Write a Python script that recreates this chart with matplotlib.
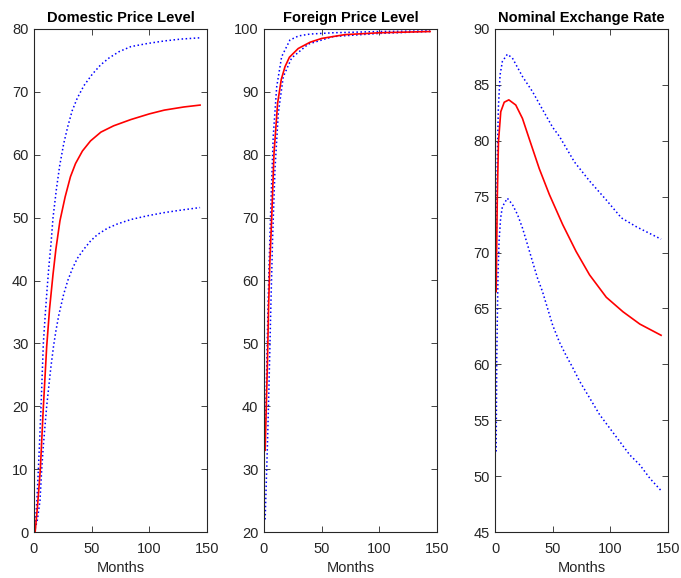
import matplotlib
matplotlib.use("Agg")
import matplotlib.pyplot as plt

plt.rcParams['font.family'] = ['Liberation Sans', 'DejaVu Sans']

# ---------------- Data ----------------
titles = ["Domestic Price Level", "Foreign Price Level", "Nominal Exchange Rate"]
xlabel = "Months"

# Domestic price level
dom_mid_m = [1, 3, 5.5, 8, 11, 13.5, 16.5, 19, 22.5, 27, 31.6, 36, 42, 49, 58, 69, 84, 100, 113, 130, 144]
dom_mid_v = [0, 4, 10, 19.5, 29.5, 35.5, 41, 45, 49.5, 53.3, 56.5, 58.6, 60.6, 62.2, 63.6, 64.6, 65.6, 66.5, 67.1, 67.6, 67.9]
dom_up_m = [1, 2.5, 3.8, 5, 6.1, 7.1, 8.1, 9.9, 11.3, 12.8, 14.8, 16.5, 19.4, 22.3, 25.8, 29.3,
            33.1, 37.5, 43.3, 50.5, 57.8, 65.1, 73.8, 84, 98.5, 113, 127.6, 144]
dom_up_v = [1, 5, 10, 15, 20, 25, 30, 35, 38.5, 42, 46, 50, 54.5, 58.3, 61.8, 64.5,
            67, 69, 71, 72.8, 74.3, 75.4, 76.4, 77.2, 77.7, 78.1, 78.4, 78.6]
dom_lo_m = [1, 3, 5.2, 6.7, 8, 9.6, 11, 12.5, 14.5, 16.9, 19, 21.5, 25.7, 29.3, 33.1, 37.5,
            43.3, 49.1, 55, 63.6, 72.4, 84, 98.5, 113, 127.6, 144]
dom_lo_v = [0.5, 2, 5, 10, 13.5, 17, 20, 22.6, 26, 29.5, 32, 34.5, 37.8, 40, 41.8, 43.5,
            45, 46.3, 47.3, 48.3, 49.0, 49.7, 50.3, 50.8, 51.2, 51.6]

# Foreign price level
for_mid_m = [1, 2, 3, 4, 5, 6.6, 8.7, 11.8, 15, 18.2, 22, 29.7, 40, 50, 70, 100, 144]
for_mid_v = [33, 40, 47, 56, 62.5, 69.6, 80.3, 88.2, 92, 94, 95.5, 96.9, 97.9, 98.5, 99.1, 99.4, 99.6]
for_up_m = [1, 1.7, 2.9, 4.3, 6, 8, 11, 15.3, 22.5, 30, 40, 60, 100, 144]
for_up_v = [36, 40.5, 51.1, 61.7, 72.3, 82.9, 90.8, 95.6, 98.25, 98.9, 99.2, 99.4, 99.6, 99.7]
for_lo_m = [1, 2, 3, 4.3, 6, 7.5, 9.5, 12.4, 16.7, 24, 38.4, 60, 100, 144]
for_lo_v = [22, 28, 34, 43.1, 56.4, 67, 77.6, 86.6, 92.4, 95.4, 97.6, 98.8, 99.3, 99.6]

# Nominal exchange rate
ner_mid_m = [1, 1.5, 2, 3, 5, 8, 12, 18, 23.8, 29.6, 38.4, 47.1, 58.7, 70.3, 82, 96.5, 111, 125.6, 144]
ner_mid_v = [66.5, 71, 75, 79.9, 82.6, 83.45, 83.66, 83.2, 82.0, 80.2, 77.5, 75.2, 72.5, 70.1, 68.0, 66.0, 64.7, 63.6, 62.6]
ner_up_m = [1, 2, 2.9, 4.4, 6.4, 10.7, 15.1, 23.8, 32.5, 41.2, 50, 55.8, 68.9, 82, 96.5, 109.6, 122.7, 140.1, 144]
ner_up_v = [70, 78.4, 82.9, 85.9, 87.1, 87.74, 87.4, 85.75, 84.4, 82.8, 81.2, 80.4, 78.1, 76.4, 74.7, 73.1, 72.3, 71.4, 71.2]
ner_lo_m = [1, 1.5, 2.6, 3.5, 4.9, 6.4, 10.7, 15.1, 19.5, 23.8, 28.2, 32.5, 36.9, 41.2, 45.6, 50,
            55.8, 61.6, 67.4, 73.3, 82, 90.7, 99.4, 108.1, 116.8, 125.6, 134.3, 144]
ner_lo_v = [52.2, 60.5, 68, 71, 73.1, 74.1, 74.86, 74.3, 73.4, 72.2, 70.7, 69.2, 67.7, 66.5, 65.0, 63.5,
            62.0, 60.8, 59.7, 58.5, 57.0, 55.5, 54.3, 53.1, 51.9, 51.0, 49.8, 48.7]

xticks = [0, 50, 100, 150]
ylims = [(0, 80), (20, 100), (45, 90)]
ysteps = [10, 10, 5]

series = [
    (dom_mid_m, dom_mid_v, dom_up_m, dom_up_v, dom_lo_m, dom_lo_v),
    (for_mid_m, for_mid_v, for_up_m, for_up_v, for_lo_m, for_lo_v),
    (ner_mid_m, ner_mid_v, ner_up_m, ner_up_v, ner_lo_m, ner_lo_v),
]

# ---------------- Figure ----------------
fig = plt.figure(figsize=(6.81, 5.78), dpi=100)
lefts = [34 / 681, 264 / 681, 495 / 681]
width = 173 / 681
bottom = 1 - 532 / 578
height = (532 - 29) / 578
edge = '#262626'

for i in range(3):
    ax = fig.add_axes([lefts[i], bottom, width, height])
    mm, mv, um, uv, lm, lv = series[i]
    ax.plot(um, uv, color='blue', linestyle=':', linewidth=1.1)
    ax.plot(lm, lv, color='blue', linestyle=':', linewidth=1.1)
    ax.plot(mm, mv, color='red', linestyle='-', linewidth=1.2)
    ax.set_xlim(0, 150)
    lo, hi = ylims[i]
    ax.set_ylim(lo, hi)
    ax.set_xticks(xticks)
    ax.set_yticks(list(range(lo, hi + 1, ysteps[i])))
    ax.set_title(titles[i], fontsize=10.5, fontweight='bold', pad=5)
    ax.set_xlabel(xlabel, fontsize=10.5, color=edge, labelpad=4)
    ax.tick_params(direction='in', top=True, right=True, labelsize=10.5,
                   colors=edge, length=4, width=0.6)
    ax.tick_params(axis='x', pad=7)
    ax.tick_params(axis='y', pad=4)
    for s in ax.spines.values():
        s.set_color(edge)
        s.set_linewidth(0.8)

fig.savefig("out.png", dpi=100)
